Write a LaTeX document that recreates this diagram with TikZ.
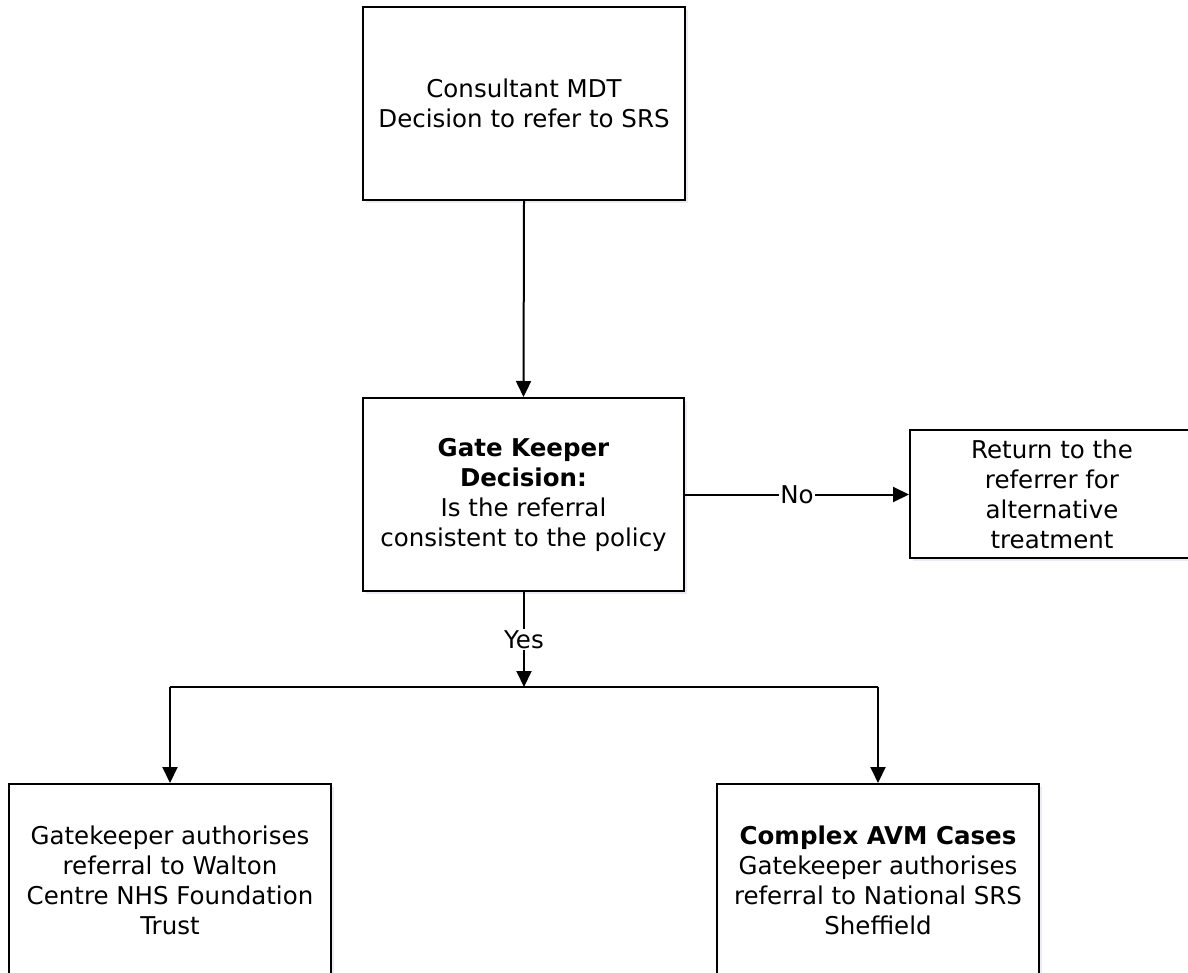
\documentclass[tikz,border=0pt]{standalone}
\usepackage{fontspec}
\setmainfont{DejaVu Sans}
\usetikzlibrary{arrows.meta,shadows}
\begin{document}
\begin{tikzpicture}[x=1pt,y=-1pt,
  box/.style={draw=black, line width=2pt, fill=white, align=center,
    inner sep=0pt, font=\fontsize{24.5}{30}\selectfont,
    drop shadow={opacity=0.12, shadow xshift=3pt, shadow yshift=-3pt, fill=blue!30!gray}},
  conn/.style={line width=2pt, draw=black},
  arr/.style={conn, -{Triangle[length=16pt,width=15pt]}},
  lbl/.style={fill=white, inner sep=1.5pt, font=\fontsize{24.5}{28}\selectfont}]
\useasboundingbox (0,0) rectangle (1188,973);
\clip (0,0) rectangle (1188,973);
\node[box, minimum width=322pt, minimum height=193pt] (c1) at (524,103.5)
  {Consultant MDT\\Decision to refer to SRS};
\node[box, minimum width=321pt, minimum height=193pt] (gk) at (523.5,494.5)
  {\textbf{Gate Keeper}\\\textbf{Decision:}\\Is the referral\\consistent to the policy};
\node[box, minimum width=284pt, minimum height=128pt] (ret) at (1052,494)
  {Return to the\\referrer for\\alternative\\treatment};
\node[box, minimum width=322pt, minimum height=192pt] (wal) at (170,880)
  {Gatekeeper authorises\\referral to Walton\\Centre NHS Foundation\\Trust};
\node[box, minimum width=322pt, minimum height=192pt] (she) at (878,880)
  {\textbf{Complex AVM Cases}\\Gatekeeper authorises\\referral to National SRS\\Sheffield};
\coordinate (split) at (524,687);
\draw[arr] (c1.south) -- (gk.north);
\draw[arr] (gk.east) -- node[lbl] {No} (ret.west |- gk.east);
\draw[arr] (gk.south -| split) -- node[lbl, pos=0.5] {Yes} (split);
\draw[conn] (wal.north |- split) -- (she.north |- split);
\draw[arr] (wal.north |- split) -- (wal.north);
\draw[arr] (she.north |- split) -- (she.north);
\end{tikzpicture}
\end{document}
